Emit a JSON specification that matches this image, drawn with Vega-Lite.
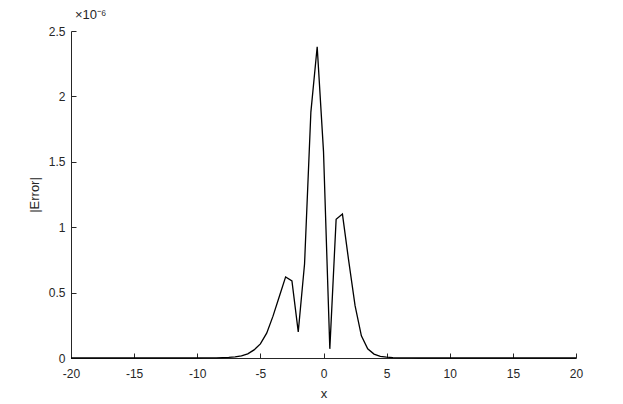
{
  "$schema": "https://vega.github.io/schema/vega-lite/v6.json",
  "width": 505,
  "height": 327,
  "autosize": {"type": "none"},
  "padding": {"left": 71, "top": 31, "right": 47, "bottom": 46},
  "background": "white",
  "config": {"view": {"stroke": null}, "font": "Liberation Sans"},
  "title": {"text": "×10⁻⁶", "anchor": "start", "frame": "group", "fontSize": 13, "fontWeight": "normal", "color": "#262626", "offset": 3, "dx": 4, "font": "Liberation Sans"},
  "data": {"values": [
    {"x": -20, "error": 0}, {"x": -19.5, "error": 0}, {"x": -19, "error": 0}, {"x": -18.5, "error": 0},
    {"x": -18, "error": 0}, {"x": -17.5, "error": 0}, {"x": -17, "error": 0}, {"x": -16.5, "error": 0},
    {"x": -16, "error": 0}, {"x": -15.5, "error": 0}, {"x": -15, "error": 0}, {"x": -14.5, "error": 0},
    {"x": -14, "error": 0}, {"x": -13.5, "error": 0}, {"x": -13, "error": 0}, {"x": -12.5, "error": 0},
    {"x": -12, "error": 0.00001}, {"x": -11.5, "error": 0.00002}, {"x": -11, "error": 0.00004}, {"x": -10.5, "error": 0.00008},
    {"x": -10, "error": 0.00015}, {"x": -9.5, "error": 0.0003}, {"x": -9, "error": 0.0006}, {"x": -8.5, "error": 0.0012},
    {"x": -8, "error": 0.0024}, {"x": -7.5, "error": 0.0045}, {"x": -7, "error": 0.0085}, {"x": -6.5, "error": 0.016},
    {"x": -6, "error": 0.032}, {"x": -5.5, "error": 0.062}, {"x": -5, "error": 0.108}, {"x": -4.5, "error": 0.19},
    {"x": -4, "error": 0.32}, {"x": -3.5, "error": 0.47}, {"x": -3, "error": 0.62}, {"x": -2.5, "error": 0.59},
    {"x": -2, "error": 0.2}, {"x": -1.5, "error": 0.72}, {"x": -1, "error": 1.88}, {"x": -0.5, "error": 2.38},
    {"x": 0, "error": 1.58}, {"x": 0.5, "error": 0.07}, {"x": 1, "error": 1.06}, {"x": 1.5, "error": 1.1},
    {"x": 2, "error": 0.74}, {"x": 2.5, "error": 0.4}, {"x": 3, "error": 0.17}, {"x": 3.5, "error": 0.07},
    {"x": 4, "error": 0.03}, {"x": 4.5, "error": 0.013}, {"x": 5, "error": 0.006}, {"x": 5.5, "error": 0.0027},
    {"x": 6, "error": 0.0012}, {"x": 6.5, "error": 0.0005}, {"x": 7, "error": 0.0002}, {"x": 7.5, "error": 0.0001},
    {"x": 8, "error": 0.00004}, {"x": 8.5, "error": 0.00002}, {"x": 9, "error": 0.00001}, {"x": 9.5, "error": 0},
    {"x": 10, "error": 0}, {"x": 10.5, "error": 0}, {"x": 11, "error": 0}, {"x": 11.5, "error": 0},
    {"x": 12, "error": 0}, {"x": 12.5, "error": 0}, {"x": 13, "error": 0}, {"x": 13.5, "error": 0},
    {"x": 14, "error": 0}, {"x": 14.5, "error": 0}, {"x": 15, "error": 0}, {"x": 15.5, "error": 0},
    {"x": 16, "error": 0}, {"x": 16.5, "error": 0}, {"x": 17, "error": 0}, {"x": 17.5, "error": 0},
    {"x": 18, "error": 0}, {"x": 18.5, "error": 0}, {"x": 19, "error": 0}, {"x": 19.5, "error": 0},
    {"x": 20, "error": 0}
  ]},
  "mark": {"type": "line", "color": "black", "strokeWidth": 1.3},
  "encoding": {
    "x": {
      "field": "x", "type": "quantitative",
      "scale": {"domain": [-20, 20], "nice": false, "zero": false},
      "axis": {
        "values": [-20, -15, -10, -5, 0, 5, 10, 15, 20],
        "labelExpr": "toString(datum.value)",
        "title": "x", "grid": false, "tickSize": -5, "labelPadding": 15,
        "domainColor": "#262626", "tickColor": "#262626", "labelColor": "#262626", "titleColor": "#262626",
        "labelFontSize": 12, "titleFontSize": 13, "titleFontWeight": "normal", "titlePadding": 8,
        "labelFont": "Liberation Sans", "titleFont": "Liberation Sans", "labelFlush": false, "labelOverlap": false
      }
    },
    "y": {
      "field": "error", "type": "quantitative",
      "scale": {"domain": [0, 2.5], "nice": false},
      "axis": {
        "values": [0, 0.5, 1, 1.5, 2, 2.5],
        "labelExpr": "toString(datum.value)",
        "title": "|Error|", "grid": false, "tickSize": -5, "labelPadding": 11,
        "domainColor": "#262626", "tickColor": "#262626", "labelColor": "#262626", "titleColor": "#262626",
        "labelFontSize": 12, "titleFontSize": 13, "titleFontWeight": "normal", "titlePadding": 7,
        "labelFont": "Liberation Sans", "titleFont": "Liberation Sans", "labelFlush": false, "labelOverlap": false
      }
    }
  }
}
